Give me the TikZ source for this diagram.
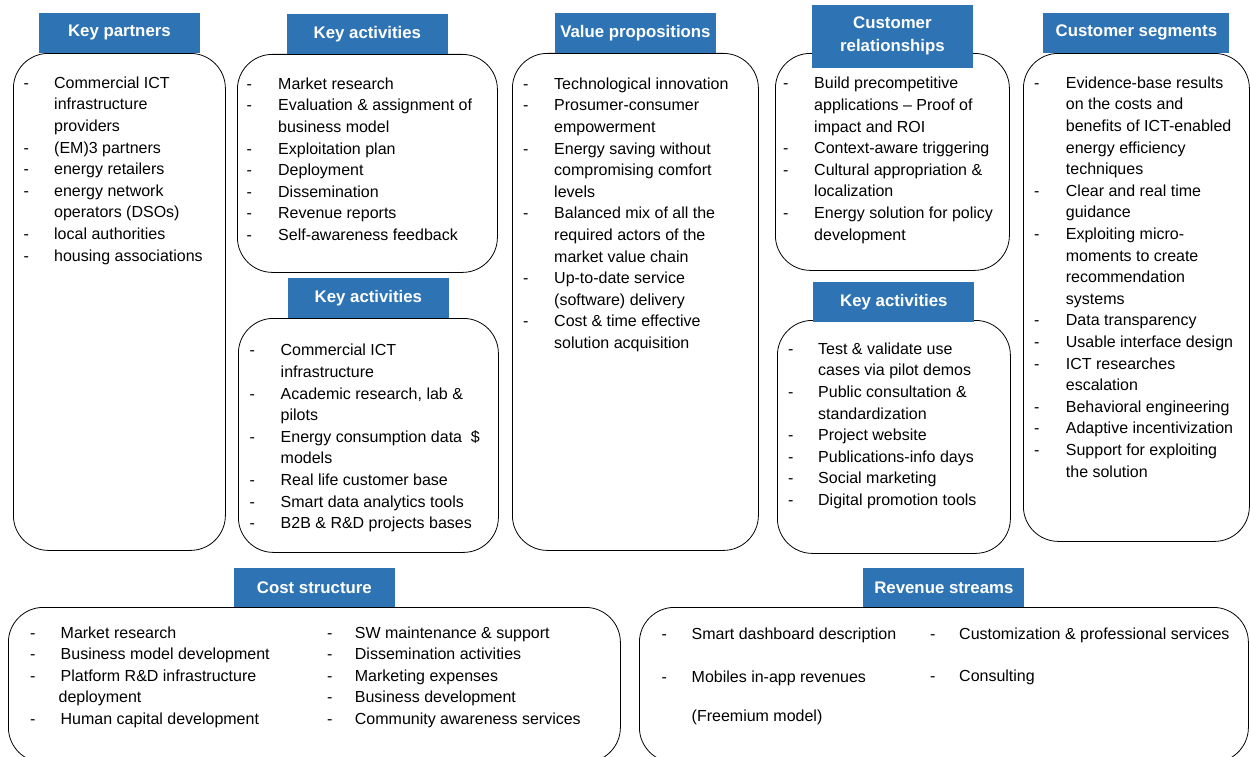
\documentclass[tikz,border=0pt]{standalone}
\usepackage{fontspec}
\setmainfont{Liberation Sans}
\usetikzlibrary{positioning}
\definecolor{hdrblue}{RGB}{46,116,181}
\newenvironment{dashlist}[1][31pt]{\begin{tabular}{@{}p{#1}@{}l@{}}}{\end{tabular}}
\tikzset{cell/.style = {draw, line width = 0.8pt, rounded corners = 35pt, anchor = north west, inner sep = 0pt},
         hdr/.style = {fill = hdrblue, text = white, font = \bfseries\fontsize{16.8}{23}\selectfont, minimum width = 161pt, minimum height = 40pt, inner sep = 0pt, align = center},
         items/.style = {inner sep = 0pt, font = \fontsize{16}{21.6}\selectfont},
}

\begin{document}
\begin{tikzpicture}[x = 1pt, y = -1pt, node distance = 0pt]

  \clip (0,0) rectangle (1250,757);

  % boxes
  \node[cell, minimum width = 212pt, minimum height = 497pt] (partners) at (13,53) {};
  \node[cell, minimum width = 260pt, minimum height = 218pt] (activities) at (237,54) {};
  \node[cell, minimum width = 260pt, minimum height = 234pt] (resources) at (238,318) {};
  \node[cell, minimum width = 246pt, minimum height = 497pt] (value) at (512,53) {};
  \node[cell, minimum width = 234pt, minimum height = 217pt] (relations) at (775,53) {};
  \node[cell, minimum width = 233pt, minimum height = 233pt] (channels) at (777,320) {};
  \node[cell, minimum width = 226pt, minimum height = 488pt] (segments) at (1023,53) {};
  \node[cell, minimum width = 612pt, minimum height = 155pt] (cost) at (8,607) {};
  \node[cell, minimum width = 609pt, minimum height = 155pt] (revenue) at (639,607) {};

  % headers
  \node[hdr, above = of partners.north] (partners_h) {Key partners};
  \node[hdr, above = of activities.north] (activities_h) {Key activities};
  \node[hdr, above = of resources.north] (resources_h) {Key activities};
  \node[hdr, above = of value.north] (value_h) {Value propositions};
  \node[hdr, above = -15pt of relations.north, minimum height = 63pt] (relations_h) {Customer\\relationships};
  \node[hdr, above = -2pt of channels.north] (channels_h) {Key activities};
  \node[hdr, above = of segments.north, minimum width = 186pt] (segments_h) {Customer segments};
  \node[hdr, above = of cost.north, minimum height = 39pt] (cost_h) {Cost structure};
  \node[hdr, above = of revenue.north, minimum height = 39pt] (revenue_h) {Revenue streams};

  % contents
  \node[items, below right = 20pt and 10.5pt of partners.north west] (partners_t) {\begin{dashlist}[30.5pt]
    - & Commercial ICT\\ & infrastructure\\ & providers\\
    - & (EM)3 partners\\
    - & energy retailers\\
    - & energy network\\ & operators (DSOs)\\
    - & local authorities\\
    - & housing associations
  \end{dashlist}};
  \node[items, below right = 20pt and 9.5pt of activities.north west] (activities_t) {\begin{dashlist}[31.5pt]
    - & Market research\\
    - & Evaluation \& assignment of\\ & business model\\
    - & Exploitation plan\\
    - & Deployment\\
    - & Dissemination\\
    - & Revenue reports\\
    - & Self-awareness feedback
  \end{dashlist}};
  \node[items, below right = 22.5pt and 11.5pt of resources.north west] (resources_t) {\begin{dashlist}
    - & Commercial ICT\\ & infrastructure\\
    - & Academic research, lab \&\\ & pilots\\
    - & Energy consumption data~~\$\\ & models\\
    - & Real life customer base\\
    - & Smart data analytics tools\\
    - & B2B \& R\&D projects bases
  \end{dashlist}};
  \node[items, below right = 21pt and 11pt of value.north west] (value_t) {\begin{dashlist}
    - & Technological innovation\\
    - & Prosumer-consumer\\ & empowerment\\
    - & Energy saving without\\ & compromising comfort\\ & levels\\
    - & Balanced mix of all the\\ & required actors of the\\ & market value chain\\
    - & Up-to-date service\\ & (software) delivery\\
    - & Cost \& time effective\\ & solution acquisition
  \end{dashlist}};
  \node[items, below right = 20.5pt and 8pt of relations.north west] (relations_t) {\begin{dashlist}
    - & Build precompetitive\\ & applications -- Proof of\\ & impact and ROI\\
    - & Context-aware triggering\\
    - & Cultural appropriation \&\\ & localization\\
    - & Energy solution for policy\\ & development
  \end{dashlist}};
  \node[items, below right = 19pt and 11pt of channels.north west] (channels_t) {\begin{dashlist}[30pt]
    - & Test \& validate use\\ & cases via pilot demos\\
    - & Public consultation \&\\ & standardization\\
    - & Project website\\
    - & Publications-info days\\
    - & Social marketing\\
    - & Digital promotion tools
  \end{dashlist}};
  \node[items, below right = 20pt and 11pt of segments.north west] (segments_t) {\begin{dashlist}[31.7pt]
    - & Evidence-base results\\ & on the costs and\\ & benefits of ICT-enabled\\ & energy efficiency\\ & techniques\\
    - & Clear and real time\\ & guidance\\
    - & Exploiting micro-\\ & moments to create\\ & recommendation\\ & systems\\
    - & Data transparency\\
    - & Usable interface design\\
    - & ICT researches\\ & escalation\\
    - & Behavioral engineering\\
    - & Adaptive incentivization\\
    - & Support for exploiting\\ & the solution
  \end{dashlist}};
  \node[items, below right = 15.7pt and 22pt of cost.north west] (cost_a) {\begin{dashlist}[30.5pt]
    - & Market research\\
    - & Business model development\\
    - & Platform R\&D infrastructure\\ & \hspace{-2pt}deployment\\
    - & Human capital development
  \end{dashlist}};
  \node[items, below right = 15.7pt and 319pt of cost.north west] (cost_b) {\begin{dashlist}[27.7pt]
    - & SW maintenance \& support\\
    - & Dissemination activities\\
    - & Marketing expenses\\
    - & Business development\\
    - & Community awareness services
  \end{dashlist}};
  \node[items, below right = 16.7pt and 22.5pt of revenue.north west] (revenue_a) {\begin{dashlist}[30pt]
    - & Smart dashboard description\\[22pt]
    - & Mobiles in-app revenues\\[17pt]
      & (Freemium model)
  \end{dashlist}};
  \node[items, below right = 16.7pt and 291pt of revenue.north west] (revenue_b) {\begin{dashlist}[29pt]
    - & Customization \& professional services\\[21pt]
    - & Consulting
  \end{dashlist}};

\end{tikzpicture}
\end{document}
